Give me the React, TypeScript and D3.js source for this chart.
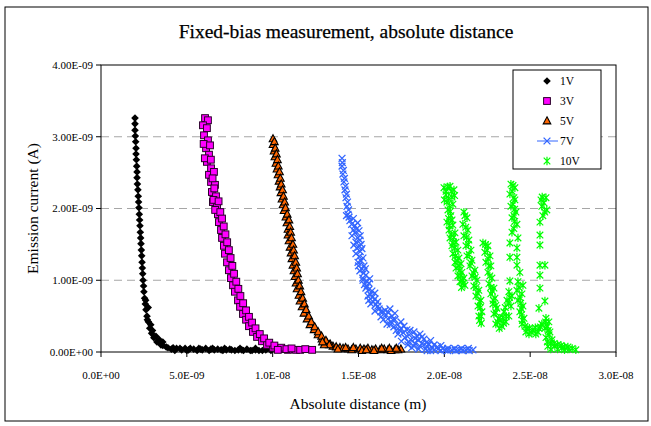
import React from 'react';
import * as d3 from 'd3';

// distance in nm (1E-09 m), current in nA (1E-09 A)
const xTicks = [0, 5, 10, 15, 20, 25, 30];
const xTickLabels = ['0.0E+00', '5.0E-09', '1.0E-08', '1.5E-08', '2.0E-08', '2.5E-08', '3.0E-08'];
const yTicks = [0, 1, 2, 3, 4];
const yTickLabels = ['0.00E+00', '1.00E-09', '2.00E-09', '3.00E-09', '4.00E-09'];
const seriesNames = ['1V', '3V', '5V', '7V', '10V'];

const v1: [number, number][] = [
  [1.98, 3.26], [1.98, 3.18], [1.98, 3.09], [2.0, 3.01], [2.02, 2.93], [2.04, 2.84], [2.04, 2.76],
  [2.06, 2.68], [2.08, 2.59], [2.1, 2.51], [2.1, 2.43], [2.12, 2.34], [2.15, 2.26], [2.17, 2.17],
  [2.19, 2.09], [2.21, 2.01], [2.23, 1.92], [2.25, 1.84], [2.27, 1.76], [2.29, 1.67], [2.31, 1.59],
  [2.33, 1.51], [2.35, 1.42], [2.37, 1.34], [2.39, 1.25], [2.41, 1.17], [2.43, 1.09], [2.45, 1.0],
  [2.48, 0.92], [2.5, 0.84], [2.54, 0.75], [2.58, 0.67], [2.62, 0.59], [2.68, 0.5], [2.76, 0.42],
  [2.84, 0.33], [2.95, 0.26], [3.08, 0.2], [3.26, 0.14], [3.49, 0.1], [3.8, 0.07], [4.2, 0.06],
  [4.6, 0.05], [5.2, 0.05], [5.8, 0.04], [6.4, 0.04], [7.0, 0.03], [7.6, 0.03], [8.2, 0.03],
  [8.8, 0.02], [9.4, 0.02],
  [2.6, 0.72], [2.75, 0.62], [2.7, 0.45], [2.9, 0.38], [3.0, 0.3], [3.2, 0.22], [3.4, 0.17], [3.6, 0.14],
  [3.6, 0.09], [3.9, 0.06], [4.1, 0.04], [4.4, 0.05], [4.7, 0.03], [4.9, 0.05], [5.1, 0.03], [5.4, 0.04],
  [5.6, 0.02], [5.9, 0.03], [6.1, 0.05], [6.3, 0.02], [6.6, 0.03], [6.8, 0.04], [7.1, 0.02], [7.3, 0.03],
  [7.5, 0.04], [7.8, 0.02], [8.0, 0.03], [8.3, 0.02], [8.5, 0.04], [8.7, 0.02], [9.0, 0.03], [9.2, 0.02],
  [9.6, 0.03], [9.9, 0.02],
  [4.3, 0.02], [5.0, 0.02], [5.7, 0.05], [6.5, 0.05], [7.2, 0.05], [8.1, 0.05], [9.0, 0.05], [9.7, 0.05],
];

const v3: [number, number][] = [
  [6.06, 3.26], [6.23, 3.23], [5.94, 3.16], [6.17, 3.12], [6.0, 3.02], [6.23, 2.95], [6.12, 2.84],
  [6.29, 2.75], [6.17, 2.65], [6.41, 2.56], [6.29, 2.47], [6.58, 2.51], [6.41, 2.37], [6.64, 2.33],
  [6.46, 2.23], [6.7, 2.17], [6.52, 2.09], [6.76, 2.02], [6.81, 1.92], [6.87, 1.81], [6.99, 1.7],
  [7.05, 1.59], [7.16, 1.48], [7.22, 1.37], [7.34, 1.25], [7.45, 1.14], [7.57, 1.03], [7.69, 0.93],
  [7.8, 0.84], [7.98, 0.72], [8.1, 0.63], [8.27, 0.53], [8.45, 0.45], [8.62, 0.36], [8.85, 0.28],
  [9.09, 0.21], [9.38, 0.15], [9.67, 0.1], [10.02, 0.06], [10.43, 0.04], [10.89, 0.03], [11.36, 0.03],
  [5.98, 2.9], [6.35, 2.88], [6.05, 2.7], [6.4, 2.68], [6.5, 2.42], [6.6, 2.28], [6.55, 2.12], [6.85, 2.1],
  [6.65, 1.98], [6.95, 1.95],
  [7.05, 1.86], [7.15, 1.75], [7.25, 1.64], [7.35, 1.53], [7.45, 1.42], [7.55, 1.31], [7.65, 1.2],
  [7.75, 1.09], [7.88, 0.98], [8.0, 0.88], [8.12, 0.78], [8.28, 0.68], [8.45, 0.58], [8.62, 0.49],
  [8.8, 0.41], [9.0, 0.33], [9.25, 0.25], [9.5, 0.19], [9.8, 0.13], [10.1, 0.09], [10.5, 0.06],
  [10.8, 0.04], [11.1, 0.05], [11.6, 0.03], [11.9, 0.04], [12.3, 0.03], [10.3, 0.03],
];

const v5: [number, number][] = [
  [10.02, 2.97], [10.02, 2.89], [10.08, 2.8], [10.13, 2.72], [10.19, 2.63], [10.25, 2.55], [10.31, 2.47],
  [10.37, 2.38], [10.43, 2.3], [10.48, 2.22], [10.54, 2.13], [10.6, 2.05], [10.66, 1.97], [10.77, 1.88],
  [10.83, 1.8], [10.89, 1.71], [10.89, 1.63], [10.95, 1.55], [11.01, 1.46], [11.07, 1.38], [11.12, 1.3],
  [11.18, 1.21], [11.24, 1.13], [11.3, 1.05], [11.36, 0.96], [11.42, 0.88], [11.53, 0.79], [11.59, 0.71],
  [11.71, 0.63], [11.82, 0.54], [12.0, 0.46], [12.17, 0.38], [12.41, 0.31], [12.64, 0.24], [12.87, 0.18],
  [13.16, 0.13], [13.51, 0.08], [13.92, 0.06], [14.39, 0.04], [14.85, 0.04], [15.32, 0.04], [15.78, 0.03],
  [16.25, 0.03], [16.72, 0.03], [17.12, 0.03], [17.47, 0.04],
  [10.1, 2.93], [10.15, 2.84], [10.22, 2.76], [10.28, 2.68], [10.33, 2.59], [10.4, 2.51], [10.45, 2.42],
  [10.5, 2.34], [10.58, 2.26], [10.63, 2.17], [10.7, 2.09], [10.75, 2.01], [10.85, 1.92], [10.95, 1.84],
  [11.0, 1.75], [11.05, 1.67], [11.1, 1.59], [11.18, 1.5], [11.22, 1.42], [11.28, 1.34], [11.35, 1.25],
  [11.4, 1.17], [11.45, 1.09], [11.5, 1.0], [11.58, 0.92], [11.65, 0.84], [11.75, 0.75], [11.85, 0.67],
  [11.95, 0.59], [12.1, 0.5], [12.25, 0.42], [12.45, 0.35], [12.65, 0.28], [12.85, 0.22], [13.1, 0.16],
  [13.35, 0.11], [13.7, 0.07], [14.1, 0.05], [14.6, 0.03], [15.1, 0.05], [15.55, 0.05], [16.0, 0.04],
  [16.5, 0.04], [16.9, 0.02], [17.3, 0.03],
  [13.3, 0.1], [13.8, 0.04], [14.25, 0.06], [14.7, 0.06], [15.2, 0.02], [15.45, 0.03], [15.9, 0.02],
  [16.35, 0.05], [16.8, 0.05], [17.2, 0.05], [13.0, 0.1], [12.9, 0.14],
];

const v7: [number, number][] = [
  [14.04, 2.7], [14.04, 2.59], [14.09, 2.48], [14.15, 2.37], [14.21, 2.26], [14.27, 2.15], [14.33, 2.03],
  [14.39, 1.92], [14.5, 1.83], [14.79, 1.76], [15.03, 1.69], [14.62, 1.62], [15.08, 1.56], [14.73, 1.49],
  [15.2, 1.44], [14.85, 1.37], [15.26, 1.31], [14.97, 1.25], [15.32, 1.2], [15.08, 1.13], [15.43, 1.07],
  [15.26, 1.0], [15.61, 0.96], [15.43, 0.89], [15.78, 0.85], [15.55, 0.78], [15.96, 0.74], [15.72, 0.67],
  [16.13, 0.64], [15.96, 0.57], [16.42, 0.56], [16.83, 0.6], [17.12, 0.54], [16.31, 0.49], [16.71, 0.46],
  [17.12, 0.45], [17.47, 0.42], [16.66, 0.39], [17.06, 0.35], [17.47, 0.33], [17.82, 0.31], [18.23, 0.28],
  [18.58, 0.25], [17.3, 0.25], [17.7, 0.2], [18.05, 0.17], [18.46, 0.17], [18.81, 0.18], [17.88, 0.1],
  [18.23, 0.08], [18.58, 0.08], [18.99, 0.08], [19.28, 0.06], [19.63, 0.04], [20.03, 0.03], [20.44, 0.03],
  [20.85, 0.03], [21.26, 0.03], [21.67, 0.03],
  [14.06, 2.64], [14.12, 2.53], [14.18, 2.42], [14.24, 2.31], [14.3, 2.2], [14.36, 2.09], [14.42, 1.98],
  [14.3, 1.9], [14.7, 1.86], [14.9, 1.72], [14.8, 1.66], [14.95, 1.59], [14.85, 1.53], [15.0, 1.46],
  [15.1, 1.4], [15.05, 1.33], [15.15, 1.27], [15.2, 1.16], [15.3, 1.1], [15.25, 1.03], [15.45, 0.99],
  [15.5, 0.92], [15.6, 0.87], [15.7, 0.8], [15.8, 0.76], [15.85, 0.7], [16.0, 0.66], [16.2, 0.6],
  [16.55, 0.58], [16.6, 0.52], [16.95, 0.5], [16.9, 0.42], [17.3, 0.38], [17.65, 0.36], [17.2, 0.3],
  [17.6, 0.27], [17.95, 0.24], [18.4, 0.22], [18.7, 0.21], [17.5, 0.15], [17.9, 0.14], [18.3, 0.12],
  [18.7, 0.12], [19.1, 0.11], [19.4, 0.1], [19.6, 0.07], [19.9, 0.05], [20.2, 0.05], [20.6, 0.05],
  [21.0, 0.05], [21.4, 0.05], [19.4, 0.03], [19.8, 0.02], [20.2, 0.02], [20.65, 0.02], [21.05, 0.02],
  [21.45, 0.02],
  [14.45, 1.88], [14.6, 1.78], [14.95, 1.8], [14.7, 1.7], [15.1, 1.62], [14.9, 1.45], [15.15, 1.5],
  [15.0, 1.2], [15.4, 1.16], [15.35, 0.94], [15.65, 1.02], [15.6, 0.72], [15.95, 0.82], [16.1, 0.7],
  [16.3, 0.56], [16.75, 0.55], [16.45, 0.45], [16.85, 0.38], [17.0, 0.45], [17.4, 0.3], [18.0, 0.3],
  [18.3, 0.19], [18.95, 0.13], [19.2, 0.16], [19.8, 0.09], [18.1, 0.06], [18.5, 0.04], [18.9, 0.04],
  [19.2, 0.02], [19.0, 0.02],
];

const v10: [number, number][] = [
  [19.98, 2.29], [20.33, 2.31], [20.56, 2.26], [20.09, 2.19], [20.44, 2.16], [20.15, 2.09], [20.5, 2.06],
  [20.21, 1.98], [20.38, 1.9], [20.15, 1.81], [20.5, 1.77], [20.27, 1.7], [20.62, 1.66], [20.33, 1.59],
  [20.68, 1.53], [20.44, 1.48], [20.79, 1.42], [20.5, 1.37], [20.85, 1.31], [20.62, 1.25], [20.97, 1.23],
  [20.68, 1.17], [21.02, 1.11], [20.79, 1.06], [21.14, 1.03], [20.91, 0.98], [21.2, 0.93],
  [20.2, 2.3], [20.1, 2.24], [20.4, 2.24], [20.25, 2.14], [20.6, 2.18], [20.3, 2.04], [20.0, 2.12],
  [20.35, 1.96], [20.25, 1.86], [20.45, 1.84], [20.3, 1.76], [20.4, 1.64], [20.55, 1.6], [20.5, 1.52],
  [20.6, 1.45], [20.65, 1.34], [20.75, 1.27], [20.85, 1.2], [20.9, 1.14], [20.95, 1.06], [21.05, 1.0],
  [21.1, 0.96], [21.0, 0.9],
  [21.14, 1.95], [21.32, 1.87], [21.08, 1.78], [21.37, 1.7], [21.14, 1.62], [21.43, 1.56], [21.26, 1.48],
  [21.55, 1.42], [21.32, 1.34], [21.61, 1.28], [21.49, 1.2], [21.78, 1.14], [21.61, 1.06], [21.9, 1.0],
  [21.72, 0.92], [22.01, 0.86], [21.84, 0.78], [22.13, 0.72], [21.96, 0.64], [22.19, 0.56], [22.01, 0.5],
  [21.2, 1.9], [21.25, 1.74], [21.3, 1.6], [21.4, 1.5], [21.45, 1.36], [21.55, 1.24], [21.7, 1.1],
  [21.8, 1.04], [21.85, 0.9], [21.95, 0.82], [22.05, 0.7], [22.1, 0.62], [22.15, 0.5], [22.05, 0.44],
  [22.15, 0.4],
  [22.25, 1.52], [22.54, 1.48], [22.36, 1.39], [22.66, 1.34], [22.42, 1.25], [22.71, 1.2], [22.54, 1.11],
  [22.77, 1.03], [22.6, 0.95], [22.89, 0.89], [22.71, 0.81], [22.95, 0.75], [22.83, 0.67], [23.06, 0.61],
  [22.89, 0.53], [23.18, 0.47], [23.0, 0.39], [23.35, 0.36], [23.59, 0.42], [23.76, 0.5], [23.47, 0.56],
  [23.88, 0.64], [23.65, 0.72], [23.94, 0.78], [23.76, 0.84],
  [22.4, 1.5], [22.5, 1.42], [22.55, 1.3], [22.6, 1.2], [22.65, 1.06], [22.7, 0.9], [22.8, 0.85],
  [22.85, 0.72], [23.0, 0.65], [23.0, 0.55], [23.1, 0.42], [23.25, 0.44], [23.4, 0.48], [23.6, 0.5],
  [23.55, 0.62], [23.75, 0.68], [23.8, 0.76], [23.2, 0.33], [23.45, 0.4],
  [23.88, 2.34], [24.11, 2.29], [23.82, 2.2], [24.11, 2.12], [23.88, 2.03], [24.17, 1.95], [23.94, 1.87],
  [24.23, 1.78], [23.94, 1.67], [24.29, 1.59], [23.82, 1.52], [24.23, 1.45], [23.82, 1.32], [24.23, 1.32],
  [24.23, 1.21], [24.4, 1.11], [23.82, 0.99], [24.29, 0.98], [24.58, 0.93], [24.23, 0.86], [24.52, 0.81],
  [24.29, 0.72], [24.58, 0.64], [24.4, 0.56], [24.64, 0.47], [24.52, 0.39], [24.81, 0.33], [25.16, 0.31],
  [25.51, 0.33], [25.68, 0.39], [24.93, 0.25], [25.33, 0.25],
  [24.0, 2.32], [23.95, 2.24], [24.05, 2.15], [24.0, 2.06], [24.1, 1.99], [24.05, 1.9], [24.1, 1.82],
  [24.05, 1.72], [24.35, 0.9], [24.4, 0.76], [24.45, 0.68], [24.5, 0.6], [24.5, 0.52], [24.55, 0.44],
  [24.7, 0.36], [24.95, 0.33], [25.3, 0.34], [25.45, 0.28], [25.1, 0.27], [24.75, 0.28], [25.6, 0.35],
  [25.63, 2.12], [25.92, 2.15], [25.68, 2.03], [25.97, 1.98], [25.74, 1.9], [25.57, 1.81], [25.57, 1.63],
  [25.57, 1.49], [25.57, 1.21], [25.86, 1.21], [25.57, 1.07], [25.57, 0.89], [25.86, 0.71], [25.51, 0.61],
  [25.92, 0.47], [26.09, 0.42], [25.86, 0.33], [26.15, 0.28], [25.92, 0.2], [26.27, 0.17], [26.03, 0.08],
  [26.44, 0.08], [26.85, 0.06], [27.26, 0.04], [27.66, 0.03],
  [25.8, 2.08], [25.7, 2.16], [25.85, 1.95], [25.9, 0.42], [26.0, 0.36], [26.05, 0.3], [26.1, 0.24],
  [26.0, 0.14], [26.2, 0.12], [26.4, 0.12], [26.6, 0.1], [26.8, 0.09], [27.0, 0.07], [27.2, 0.07],
  [27.45, 0.05], [26.2, 0.04], [26.6, 0.04], [27.0, 0.03],
];

const seriesData = [v1, v3, v5, v7, v10];

const FONT = '"Liberation Serif", "Times New Roman", serif';

function Marker({ kind, cx, cy }: { kind: number; cx: number; cy: number }) {
  const t = `translate(${cx},${cy})`;
  if (kind === 0) {
    return <path transform={t} d="M0,-3.8L3.8,0L0,3.8L-3.8,0Z" fill="#000" />;
  }
  if (kind === 1) {
    return <rect x={cx - 3.4} y={cy - 3.4} width={6.8} height={6.8} fill="#ff00ff" stroke="#2a002a" strokeWidth={1} />;
  }
  if (kind === 2) {
    return <path transform={t} d="M0,-4.2L3.8,2.9L-3.8,2.9Z" fill="#ff6600" stroke="#000" strokeWidth={1.1} />;
  }
  if (kind === 3) {
    return <path transform={t} d="M-3.4,-3.4L3.4,3.4M3.4,-3.4L-3.4,3.4" stroke="#3366ff" strokeWidth={1.3} fill="none" />;
  }
  return (
    <path transform={t} d="M-3.3,-3.3L3.3,3.3M3.3,-3.3L-3.3,3.3M0,-4.2L0,4.2" stroke="#00ff00" strokeWidth={1.2} fill="none" />
  );
}

export default function App() {
  const x = d3.scaleLinear().domain([0, 30]).range([101, 616]);
  const y = d3.scaleLinear().domain([0, 4]).range([352, 65]);
  const [x0, x1] = x.range();
  const [y0, y1] = y.range();

  const legendRow = d3.scaleLinear().domain([0, 4]).range([81, 161]);

  return (
    <svg width={651} height={426} style={{ position: 'absolute', left: 0, top: 0, background: '#fff' }} fontFamily={FONT}>
      <rect x={5} y={7} width={643} height={414} fill="#fff" stroke="#000" strokeWidth={1} />

      <text x={346} y={38} textAnchor="middle" fontSize={19.5} fill="#000" stroke="#000" strokeWidth={0.25}>
        Fixed-bias measurement, absolute distance
      </text>

      {/* gridlines */}
      {yTicks.filter((t) => t > 0 && t < 4).map((t) => (
        <line key={t} x1={x0} x2={x1} y1={y(t)} y2={y(t)} stroke="#a6a6a6" strokeWidth={1} strokeDasharray="8,5" />
      ))}

      {/* plot border */}
      <rect x={x0} y={y1} width={x1 - x0} height={y0 - y1} fill="none" stroke="#000" strokeWidth={1} />

      {/* y axis */}
      {yTicks.map((t, i) => (
        <g key={t}>
          <line x1={x0 - 5} x2={x0} y1={y(t)} y2={y(t)} stroke="#000" />
          <text x={x0 - 8} y={y(t)} dy="0.35em" textAnchor="end" fontSize={11} fill="#000">
            {yTickLabels[i]}
          </text>
        </g>
      ))}
      {/* x axis */}
      {xTicks.map((t, i) => (
        <g key={t}>
          <line x1={x(t)} x2={x(t)} y1={y0} y2={y0 + 5} stroke="#000" />
          <text x={x(t)} y={y0 + 27} textAnchor="middle" fontSize={11} fill="#000">
            {xTickLabels[i]}
          </text>
        </g>
      ))}

      <text x={358} y={409} textAnchor="middle" fontSize={15.5} fill="#000">
        Absolute distance (m)
      </text>
      <text transform={`translate(38,${(y0 + y1) / 2}) rotate(-90)`} textAnchor="middle" fontSize={15.5} fill="#000">
        Emission current (A)
      </text>

      {/* data */}
      {seriesData.map((s, k) => (
        <g key={k}>
          {s.map((d, i) => (
            <Marker key={i} kind={k} cx={x(d[0])} cy={y(d[1])} />
          ))}
        </g>
      ))}

      {/* legend */}
      <rect x={513} y={70} width={88} height={99} fill="#fff" stroke="#000" strokeWidth={1} />
      {seriesNames.map((name, k) => (
        <g key={name}>
          {k === 3 && <line x1={537} x2={558} y1={legendRow(k)} y2={legendRow(k)} stroke="#3366ff" strokeWidth={1} />}
          <Marker kind={k} cx={547} cy={legendRow(k)} />
          <text x={560} y={legendRow(k)} dy="0.35em" fontSize={11.5} fill="#000">
            {name}
          </text>
        </g>
      ))}
    </svg>
  );
}
